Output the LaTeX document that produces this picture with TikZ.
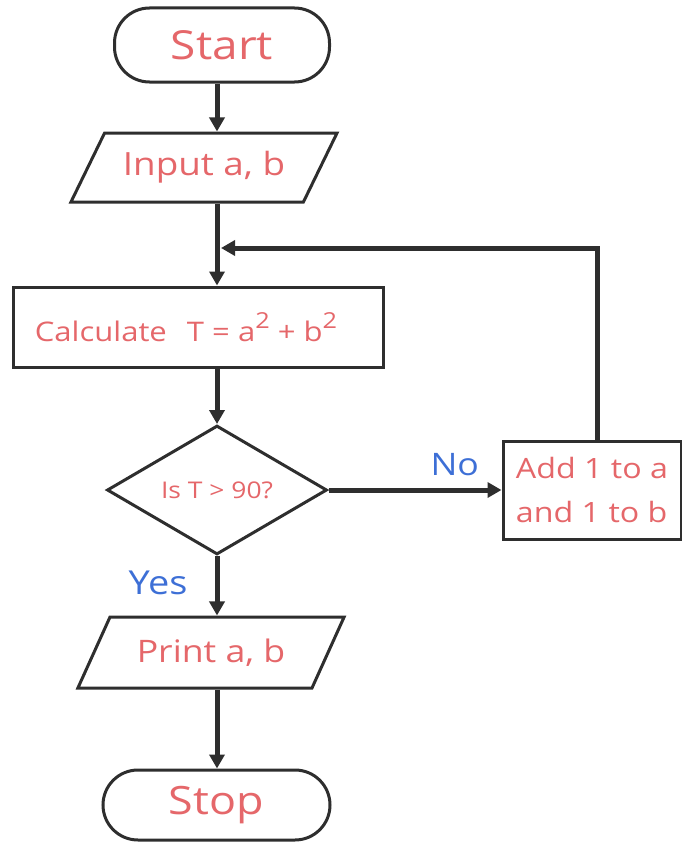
\documentclass[tikz,border=0pt]{standalone}
\usepackage{fontspec}
\setmainfont{Open Sans}[FakeStretch=1.15]
\usetikzlibrary{shapes.geometric,arrows.meta}
\definecolor{txtred}{HTML}{E5676A}
\definecolor{txtblue}{HTML}{3D6FD6}
\definecolor{ink}{HTML}{2E2E2E}
\newcommand\sqtwo{\raisebox{0.5em}{\fontsize{22}{24}\selectfont 2}}
\tikzset{
  box/.style={draw=ink, line width=3pt, fill=white, text=txtred, inner sep=0pt},
  term/.style={box, rectangle, rounded corners=35pt},
  io/.style={box, trapezium, trapezium left angle=49.4, trapezium right angle=130.6, trapezium stretches=true},
  proc/.style={box, rectangle},
  decide/.style={box, diamond},
  conn/.style={draw=ink, line width=5pt, -{Triangle[length=14pt,width=15pt]}},
  lbl/.style={text=txtblue, inner sep=0pt},
}
\begin{document}
\begin{tikzpicture}[x=1pt,y=-1pt]
\useasboundingbox (0,0) rectangle (682,843);
\coordinate (col) at (217,0);
\node[term, minimum width=215pt, minimum height=74pt, font=\fontsize{40}{44}\selectfont] (start) at (222,45) {Start};
\node[io, minimum width=267pt, minimum height=69pt, font=\fontsize{32}{36}\selectfont] (input) at (204,167.5) {Input a, b};
\node[proc, minimum width=370pt, minimum height=80pt, font=\fontsize{27}{32}\selectfont] (calc) at (198,327) {Calculate\;\, T = a\sqtwo\ + b\sqtwo\hspace*{24pt}};
\node[decide, minimum width=220pt, minimum height=122pt, font=\fontsize{23}{26}\selectfont] (test) at (217,490) {Is T > 90?};
\node[proc, minimum width=178pt, minimum height=98pt, align=left, font=\fontsize{28}{44}\selectfont] (add) at (592,490) {Add 1 to a\\and 1 to b};
\node[io, minimum width=267pt, minimum height=71pt, font=\fontsize{31}{36}\selectfont] (print) at (211,652.5) {Print a, b};
\node[term, minimum width=227pt, minimum height=70pt, font=\fontsize{39}{44}\selectfont] (stop) at (216.5,805) {Stop};
\coordinate (loop) at (597,248);
\draw[conn] (start.south -| col) -- (input.north -| col);
\draw[conn] (input.south -| col) -- (calc.north -| col);
\draw[conn] (calc.south -| col) -- (test.north);
\draw[conn] (test.south) -- node[lbl, pos=0.45, left=27pt, font=\fontsize{33}{36}\selectfont] {Yes} (print.north -| col);
\draw[conn] (print.south -| col) -- (stop.north -| col);
\draw[conn] (test.east) -- node[lbl, pos=0.73, above=12pt, font=\fontsize{31}{34}\selectfont] {No} (add.west);
\draw[conn] (add.north -| loop) -- (loop) -- ([xshift=4pt]loop -| col);
\end{tikzpicture}
\end{document}
